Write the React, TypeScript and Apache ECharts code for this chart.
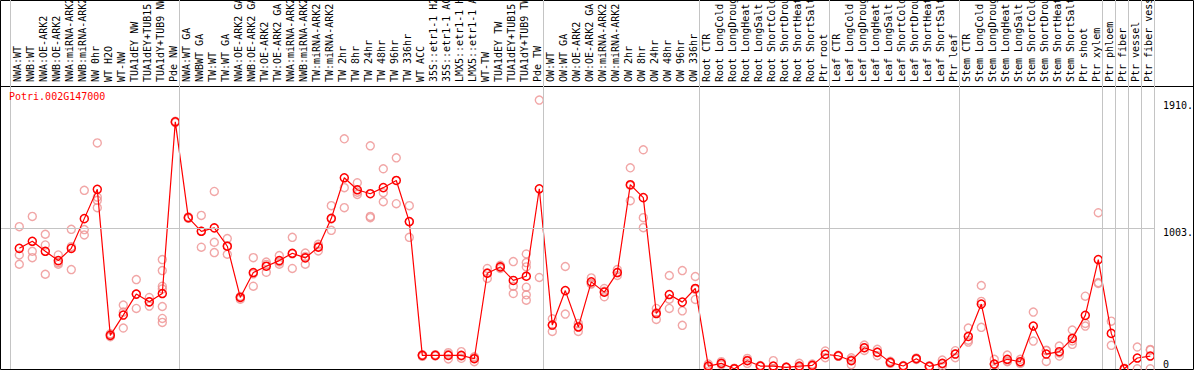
import React, { useEffect, useRef } from "react";
import * as echarts from "echarts";

const geneName = "Potri.002G147000";

const categories: string[] = [
  "NWA:WT", "NWB:WT", "NWA:OE-ARK2", "NWB:OE-ARK2", "NWA:miRNA-ARK2", "NWB:miRNA-ARK2",
  "NW 0hr", "WT H2O", "WT-NW", "TUA1dEY NW", "TUA1dEY+TUB15 NW", "TUA1dY+TUB9 NW", "Pde NW",
  "NWA:WT GA", "NWBWT GA", "TW:WT", "TW:WT GA", "NWA:OE-ARK2 GA", "NWB:OE-ARK2 GA",
  "TW:OE-ARK2", "TW:OE-ARK2 GA", "NWA:miRNA-ARK2 GA", "NWB:miRNA-ARK2 GA", "TW:miRNA-ARK2",
  "TW:miRNA-ARK2 GA", "TW 2hr", "TW 8hr", "TW 24hr", "TW 48hr", "TW 96hr", "TW 336hr",
  "WT ACC", "35S::etr1-1 H2O", "35S::etr1-1 ACC", "LMX5::etr1-1 H2O", "LMX5::etr1-1 ACC",
  "WT-TW", "TUA1dEY TW", "TUA1dEY+TUB15 TW", "TUA1dY+TUB9 TW", "Pde TW",
  "OW:WT", "OW:WT GA", "OW:OE-ARK2", "OW:OE-ARK2 GA", "OW:miRNA-ARK2", "OW:miRNA-ARK2 GA",
  "OW 2hr", "OW 8hr", "OW 24hr", "OW 48hr", "OW 96hr", "OW 336hr",
  "Root CTR", "Root LongCold", "Root LongDrought", "Root LongHeat", "Root LongSalt",
  "Root ShortCold", "Root ShortDrought", "Root ShortHeat", "Root ShortSalt", "Ptr root",
  "Leaf CTR", "Leaf LongCold", "Leaf LongDrought", "Leaf LongHeat", "Leaf LongSalt",
  "Leaf ShortCold", "Leaf ShortDrought", "Leaf ShortHeat", "Leaf ShortSalt", "Ptr leaf",
  "Stem CTR", "Stem LongCold", "Stem LongDrought", "Stem LongHeat", "Stem LongSalt",
  "Stem ShortCold", "Stem ShortDrought", "Stem ShortHeat", "Stem ShortSalt", "Ptr shoot",
  "Ptr xylem", "Ptr phloem", "Ptr fiber", "Ptr vessel", "Ptr fiber vessel",
];

const means: number[] = [
  857, 907, 836, 770, 857, 1068, 1276, 239, 383, 532, 477, 536, 1755,
  1075, 978, 1002, 872, 508, 685, 730, 770, 822, 789, 865, 1070, 1358, 1273, 1245, 1288,
  1339, 1047, 97, 97, 97, 97, 73, 680, 725, 629, 659, 1280,
  312, 557, 298, 619, 546, 685, 1309, 1217, 394, 529, 475, 572,
  21, 40, 2, 59, 21, 21, 12, 21, 26, 104,
  94, 59, 151, 118, 47, 21, 73, 19, 40, 106,
  231, 461, 35, 69, 52, 305, 106, 123, 217, 381, 777,
  253, 2, 78, 92,
];

const replicates: number[][] = [
  [1011, 810, 744], [1084, 836, 791], [957, 881, 673], [810, 744, 756], [992, 869, 706],
  [1269, 990, 952], [1606, 1221, 1198, 1146], [229, 245, 250], [454, 291, 404],
  [635, 430, 532], [508, 447, 477], [777, 699, 588, 569, 444, 359, 331], [1750, 1760],
  [1080, 1070], [1091, 978, 865], [1261, 900, 827], [926, 815, 875], [496, 513, 515],
  [791, 588, 676], [760, 687, 743], [806, 744, 760], [935, 714, 817], [824, 744, 799],
  [886, 838, 871], [1160, 985, 1065], [1635, 1288, 1146], [1323, 1240, 1256],
  [1585, 1084, 1075], [1422, 1252, 1188], [1500, 1174], [1160, 935, 1046],
  [90, 100, 101], [92, 97, 102], [116, 71, 104], [123, 76, 92], [87, 52, 80],
  [714, 643, 683], [737, 714, 724], [763, 588, 536], [817, 756, 725, 581, 527, 489],
  [1910, 650],
  [357, 267, 312], [728, 390], [267, 324, 303], [647, 607, 603], [572, 513, 553],
  [706, 664, 685], [1429, 1195, 1303], [1557, 1075, 1004], [430, 352, 400],
  [664, 496, 430], [699, 413, 310], [657, 494, 565],
  [35, 10, 18], [52, 30, 38], [5, 0, 1], [40, 75, 62], [25, 18, 20], [59, 2, 2],
  [15, 10, 11], [40, 10, 13], [35, 20, 23], [128, 80, 104],
  [98, 90, 94], [31, 80, 66], [170, 132, 151], [94, 140, 120], [40, 55, 46],
  [25, 18, 20], [78, 68, 73], [22, 16, 19], [64, 20, 36], [130, 80, 108],
  [291, 205, 191], [593, 480, 296], [69, 2, 34], [99, 52, 56], [69, 40, 47],
  [404, 198], [134, 54, 130], [163, 92, 114], [277, 175, 199], [517, 324, 305],
  [1110, 614, 607],
  [340, 168], [0, 0, 6], [156, 2], [139, 134, 2],
];

const groupBreaks: number[] = [0, 13, 41, 53, 63, 73, 84, 85, 86, 87, 88];
const yTickUpper: number[] = [1910, 1003];
const yTickZero: number[] = [0];
const yMax = 2010;

const MONO = "DejaVu Sans Mono";

export default function App() {
  const ref = useRef<HTMLDivElement>(null);

  useEffect(() => {
    if (!ref.current) return;
    const chart = echarts.init(ref.current, null, { renderer: "svg" });

    const repData: [number, number][] = [];
    replicates.forEach((arr, i) => arr.forEach((v) => repData.push([i, v])));

    const noBounds = { outerBoundsMode: "none", containLabel: false };

    const option: any = {
      animation: false,
      backgroundColor: "#ffffff",
      title: {
        text: geneName,
        left: 9,
        top: 91,
        padding: 0,
        textStyle: { color: "#ff0000", fontSize: 10, fontFamily: MONO, fontWeight: "normal" },
      },
      grid: [
        { left: 10.5, right: 39.5, top: 0, bottom: 1, ...noBounds },
        { left: 11, right: 39, top: 86, bottom: 1, ...noBounds },
        { left: 12.8, right: 37.2, top: 86, bottom: 1, ...noBounds },
        { left: 1, right: 39, top: 86, bottom: 1, ...noBounds },
      ],
      xAxis: [
        { gridIndex: 0, type: "value", min: 0, max: 88, show: false },
        {
          gridIndex: 1,
          type: "category",
          data: categories,
          position: "top",
          axisLine: { show: false, onZero: false },
          axisTick: { show: false },
          splitLine: { show: false },
          axisLabel: {
            interval: 0,
            rotate: -90,
            margin: 4,
            align: "left",
            verticalAlign: "middle",
            fontFamily: MONO,
            fontSize: 10,
            color: "#000000",
          },
        },
        { gridIndex: 2, type: "category", data: categories, show: false },
        { gridIndex: 3, type: "value", min: 0, max: 1, show: false },
      ],
      yAxis: [
        { gridIndex: 0, type: "value", min: 0, max: 1, show: false },
        { gridIndex: 1, type: "value", min: 0, max: yMax, show: false },
        { gridIndex: 2, type: "value", min: 0, max: yMax, show: false },
        {
          gridIndex: 3,
          type: "value",
          min: 0,
          max: yMax,
          position: "right",
          axisLine: { show: false },
          axisTick: { show: false },
          splitLine: { show: false },
          axisLabel: {
            customValues: yTickUpper,
            formatter: (v: number) => `${v}.`,
            verticalAlign: "top",
            margin: 8,
            fontFamily: MONO,
            fontSize: 10,
            color: "#000000",
          },
        },
        {
          gridIndex: 3,
          type: "value",
          min: 0,
          max: yMax,
          position: "right",
          axisLine: { show: false },
          axisTick: { show: false },
          splitLine: { show: false },
          axisLabel: {
            customValues: yTickZero,
            formatter: (v: number) => `${v}`,
            verticalAlign: "bottom",
            margin: 8,
            fontFamily: MONO,
            fontSize: 10,
            color: "#000000",
          },
        },
      ],
      graphic: [
        {
          type: "rect",
          z: 0,
          silent: true,
          shape: { x: 0.5, y: 0.5, width: 1193, height: 369 },
          style: { fill: "none", stroke: "#000000", lineWidth: 1 },
        },
        {
          type: "line",
          z: 0,
          silent: true,
          shape: { x1: 0, y1: 86.5, x2: 1194, y2: 86.5 },
          style: { stroke: "#000000", lineWidth: 1 },
        },
      ],
      series: [
        {
          type: "line",
          xAxisIndex: 0,
          yAxisIndex: 0,
          data: [],
          silent: true,
          markLine: {
            silent: true,
            symbol: "none",
            label: { show: false },
            lineStyle: { color: "#c4c4c4", width: 1, type: "solid" },
            data: groupBreaks.map((b) => ({ xAxis: b })),
          },
        },
        {
          type: "line",
          xAxisIndex: 3,
          yAxisIndex: 3,
          data: [],
          silent: true,
          markLine: {
            silent: true,
            symbol: "none",
            label: { show: false },
            lineStyle: { color: "#c4c4c4", width: 1, type: "solid" },
            data: [{ yAxis: yTickUpper[1] }],
          },
        },
        {
          type: "scatter",
          xAxisIndex: 2,
          yAxisIndex: 2,
          data: repData,
          symbol: "circle",
          symbolSize: 8,
          itemStyle: { color: "rgba(0,0,0,0)", borderColor: "#ee9090", borderWidth: 1.4 },
          z: 3,
        },
        {
          type: "line",
          xAxisIndex: 2,
          yAxisIndex: 2,
          data: means,
          symbol: "circle",
          symbolSize: 8,
          showSymbol: true,
          lineStyle: { color: "#ff0000", width: 1.2 },
          itemStyle: { color: "rgba(0,0,0,0)", borderColor: "#ff0000", borderWidth: 1.5 },
          z: 4,
        },
      ],
    };

    chart.setOption(option);
    return () => chart.dispose();
  }, []);

  return (
    <div
      ref={ref}
      style={{ position: "absolute", left: 0, top: 0, width: 1194, height: 370 }}
    />
  );
}
